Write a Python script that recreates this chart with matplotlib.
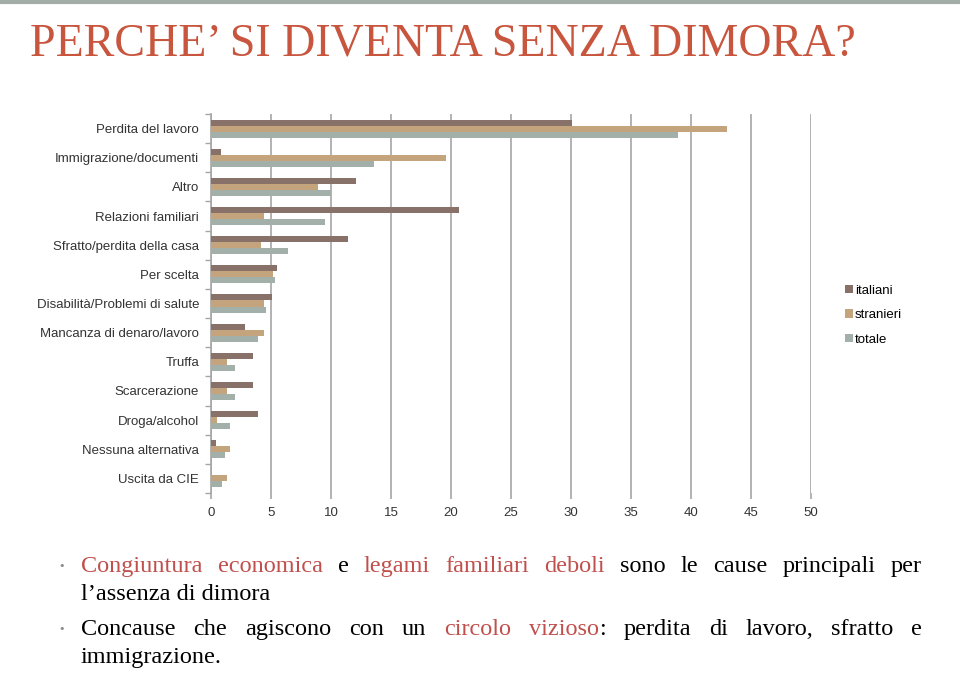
import matplotlib.pyplot as plt
import numpy as np

cats = ["Perdita del lavoro", "Immigrazione/documenti", "Altro", "Relazioni familiari",
        "Sfratto/perdita della casa", "Per scelta", "Disabilità/Problemi di salute",
        "Mancanza di denaro/lavoro", "Truffa", "Scarcerazione", "Droga/alcohol",
        "Nessuna alternativa", "Uscita da CIE"]
italiani = [30.1, 0.8, 12.1, 20.7, 11.4, 5.5, 5.1, 2.8, 3.5, 3.5, 3.9, 0.4, 0.0]
stranieri = [43.0, 19.6, 8.9, 4.4, 4.2, 5.2, 4.4, 4.4, 1.3, 1.3, 0.5, 1.6, 1.3]
totale = [38.9, 13.6, 10.0, 9.5, 6.4, 5.3, 4.6, 3.9, 2.0, 2.0, 1.6, 1.2, 0.9]
series_names = ["italiani", "stranieri", "totale"]
xticks = list(range(0, 55, 5))

col_it = "#877169"
col_st = "#c4a47c"
col_to = "#a3b0aa"
red = "#c0504d"
grid_col = "#a6a6a6"

fig = plt.figure(figsize=(9.6, 6.73), dpi=100)
ax = fig.add_axes([211/960, 180/673, 600/960, 379/673])

y = np.arange(len(cats))
h = 0.207
ax.barh(y - h, italiani, height=h, color=col_it, label=series_names[0], zorder=3)
ax.barh(y, stranieri, height=h, color=col_st, label=series_names[1], zorder=3)
ax.barh(y + h, totale, height=h, color=col_to, label=series_names[2], zorder=3)

ax.set_xlim(0, 50)
ax.set_ylim(len(cats) - 0.5, -0.5)
ax.set_xticks(xticks)
ax.set_xticklabels([str(t) for t in xticks], fontsize=9.5, color="#333333",
                   family="Liberation Sans")
ax.set_yticks(y)
ax.set_yticklabels(cats, fontsize=9.5, color="#333333", family="Liberation Sans")
ax.set_yticks(np.arange(-0.5, len(cats), 1), minor=True)
ax.tick_params(axis="y", which="major", length=0, pad=8.5)
ax.tick_params(axis="y", which="minor", length=4, color=grid_col, width=1)
ax.tick_params(axis="x", length=4, color=grid_col, width=1.2, pad=6)
ax.grid(axis="x", color=grid_col, linewidth=1.2, zorder=0)
for s in ["top", "right", "bottom"]:
    ax.spines[s].set_visible(False)
ax.spines["left"].set_color(grid_col)
ax.spines["left"].set_linewidth(1.2)

fig.legend(loc="upper left", bbox_to_anchor=(838/960, 1 - 278/673), frameon=False,
           prop={"family": "Liberation Sans", "size": 9.5}, handlelength=0.6,
           handleheight=0.6, handletextpad=0.2, labelspacing=0.95, borderpad=0)

# top rule and title
fig.add_artist(plt.Line2D([0, 1], [1 - 1.5/673, 1 - 1.5/673], color="#a3ada8", lw=3))
fig.text(30/960, 1 - 44/673, "PERCHE\u2019 SI DIVENTA SENZA DIMORA?", color="#c8553d",
         family="Liberation Serif", fontsize=33, va="center", ha="left")

# bullet text
line1 = [("Congiuntura", red), ("economica", red), ("e", "k"), ("legami", red),
         ("familiari", red), ("deboli", red), ("sono", "k"), ("le", "k"), ("cause", "k"),
         ("principali", "k"), ("per", "k")]
line2 = [("Concause", "k"), ("che", "k"), ("agiscono", "k"), ("con", "k"), ("un", "k"),
         ("circolo", red), ("vizioso", red), (":", "k"), ("perdita", "k"), ("di", "k"),
         ("lavoro,", "k"), ("sfratto", "k"), ("e", "k")]
fs = 17.5
txt = dict(family="Liberation Serif", fontsize=fs, va="baseline", ha="left")
renderer = fig.canvas.get_renderer()


def justify(words, ypix, x0=81, x1=922):
    arts = []
    for w, c in words:
        arts.append(fig.text(0, 1 - ypix/673, w, color=c, **txt))
    widths = [a.get_window_extent(renderer).width for a in arts]
    # colon sticks to previous word
    gaps = [i for i in range(1, len(words)) if words[i][0] != ":"]
    space = (x1 - x0 - sum(widths)) / len(gaps)
    x = x0
    for i, a in enumerate(arts):
        if i > 0 and i in gaps:
            x += space
        a.set_x(x / 960)
        x += widths[i]


fig.text(62/960, 1 - 566/673, "\u2022", color="#8c8c8c", family="DejaVu Sans",
         fontsize=8, va="center", ha="center")
justify(line1, 572)
fig.text(81/960, 1 - 600/673, "l\u2019assenza di dimora", color="k", **txt)
fig.text(62/960, 1 - 629/673, "\u2022", color="#8c8c8c", family="DejaVu Sans",
         fontsize=8, va="center", ha="center")
justify(line2, 635)
fig.text(81/960, 1 - 663/673, "immigrazione.", color="k", **txt)

fig.savefig("out.png", dpi=100)
